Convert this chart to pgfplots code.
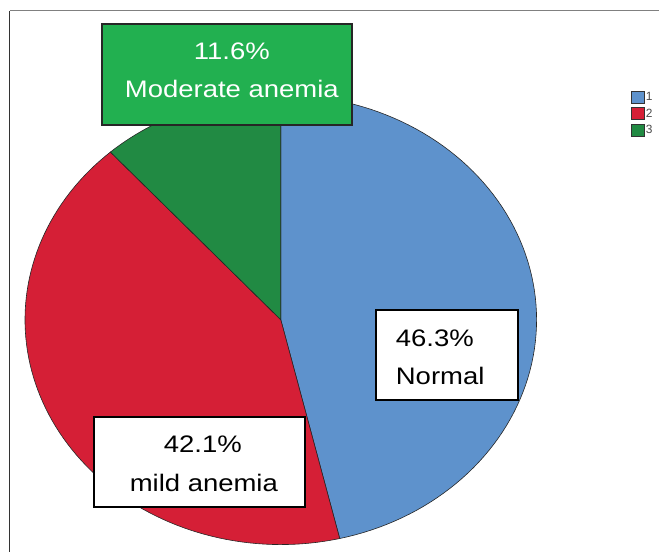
\documentclass[border=0pt]{standalone}
\usepackage{pgfplots}
\pgfplotsset{compat=1.18}
\usepackage{pgfplotstable}
\usepackage{fontspec}
\setmainfont{Liberation Sans}
\newfontfamily\lab[FakeStretch=1.15]{Liberation Sans}
\definecolor{cblue}{HTML}{5E92CC}
\definecolor{cred}{HTML}{D51F36}
\definecolor{cgreen}{HTML}{218A43}
\definecolor{boxgreen}{HTML}{22B050}
\pgfplotstableread{
id pct
1 46.3
2 42.1
3 11.6
}\piedata
\begin{document}
\begin{tikzpicture}
\pgfplotstablegetelem{0}{pct}\of\piedata \let\pA\pgfplotsretval
\pgfplotstablegetelem{1}{pct}\of\piedata \let\pB\pgfplotsretval
\pgfplotstablegetelem{2}{pct}\of\piedata \let\pC\pgfplotsretval
\pgfmathsetmacro\aA{90}
\pgfmathsetmacro\aB{90-3.6*\pA}
\pgfmathsetmacro\aC{\aB-3.6*\pB}
\pgfmathsetmacro\aD{\aC-3.6*\pC}
\begin{axis}[width=659bp,height=552bp,scale only axis,
  xmin=0,xmax=659,ymin=0,ymax=552,hide axis,clip=false,
  legend style={at={(axis cs:631,461)},anchor=north west,draw=none,fill=none,
    font=\fontsize{12}{13}\selectfont\color{black!70},row sep=3.5bp,inner sep=0pt,
    nodes={inner sep=1.5bp}},
  legend cell align=left,
  legend image code/.code={\draw[#1,draw=black!80,line width=0.7bp] (0bp,-6bp) rectangle (13bp,6bp);}]
\path (axis cs:0,0) rectangle (axis cs:659,552);
\addplot[fill=cblue,draw=black!85,line width=0.6bp,domain=\aB:\aA,samples=90]
  ({281+256*cos(x)},{232+225*sin(x)}) -- (axis cs:281,232) -- cycle;
\addlegendentry{1}
\addplot[fill=cred,draw=black!85,line width=0.6bp,domain=\aC:\aB,samples=90]
  ({281+256*cos(x)},{232+225*sin(x)}) -- (axis cs:281,232) -- cycle;
\addlegendentry{2}
\addplot[fill=cgreen,draw=black!85,line width=0.6bp,domain=\aD:\aC,samples=40]
  ({281+256*cos(x)},{232+225*sin(x)}) -- (axis cs:281,232) -- cycle;
\addlegendentry{3}
% frame
\draw[black!50,line width=1bp] (axis cs:10,541) -- (axis cs:659,541);
\draw[black!80,line width=1bp] (axis cs:10,541) -- (axis cs:10,0);
% label boxes
\draw[fill=boxgreen,draw=black!85,line width=2bp] (axis cs:102,528) rectangle (axis cs:352,427);
\draw[fill=white,draw=black,line width=2bp] (axis cs:376,242) rectangle (axis cs:518,152);
\draw[fill=white,draw=black,line width=2bp] (axis cs:94,135) rectangle (axis cs:305,45);
\begin{scope}[every node/.style={inner sep=0pt,font=\lab\fontsize{24}{28}\selectfont}]
\node[anchor=base,white] at (axis cs:232,492) {11.6\%};
\node[anchor=base,white] at (axis cs:232,454) {Moderate anemia};
\node[anchor=base west] at (axis cs:396,205) {46.3\%};
\node[anchor=base west] at (axis cs:396,167) {Normal};
\node[anchor=base] at (axis cs:203,99) {42.1\%};
\node[anchor=base] at (axis cs:204,60) {mild anemia};
\end{scope}
\end{axis}
\end{tikzpicture}
\end{document}
